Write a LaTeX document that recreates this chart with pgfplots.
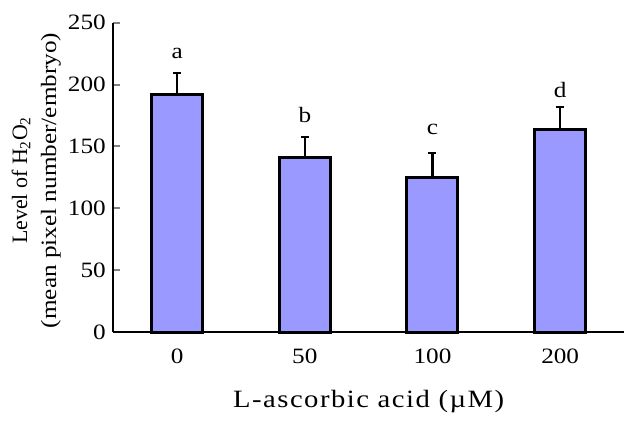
\documentclass[border=0pt]{standalone}
\usepackage{fontspec}
\setmainfont{Liberation Serif}[FakeStretch=1.15]
\usepackage{pgfplots}
\pgfplotsset{compat=1.18}
\definecolor{barfill}{RGB}{153,153,255}
\begin{document}
\fontsize{22}{29}\selectfont
\begin{tikzpicture}
\begin{axis}[
  scale only axis,
  width=510.7bp, height=309.3bp,
  xmin=-0.5, xmax=3.5,
  ymin=0, ymax=250,
  axis lines*=left,
  axis line style={line width=2bp},
  tick align=inside,
  xtick={0,1,2,3},
  xticklabels={0,50,100,200},
  x tick style={draw=none},
  minor xtick={0.5,1.5,2.5,3.5},
  minor x tick style={line width=2bp},
  minor tick length=6bp,
  ytick={0,50,100,150,200,250},
  y tick style={line width=2bp},
  major tick length=7bp,
  /pgf/number format/assume math mode=true,
  tick label style={font=\fontsize{22}{26}\selectfont},
  xticklabel style={yshift=-9bp},
  xlabel={\fontsize{25}{28}\selectfont\addfontfeatures{LetterSpace=6}L-ascorbic acid (µM)},
  xlabel style={at={(axis description cs:0.5,-0.226)}, anchor=center},
  ylabel={\addfontfeatures{FakeStretch=1.0}Level of H\textsubscript{2}O\textsubscript{2}\\(mean pixel number/embryo)},
  ylabel style={align=center, font=\fontsize{22}{29}\selectfont, at={(axis description cs:-0.088,0.49)}, anchor=south},
  clip=false,
]
\addplot[ybar, bar width=51bp, fill=barfill, draw=black, line width=3bp,
  error bars/.cd, y dir=plus, y explicit,
  error bar style={line width=2.2bp},
  error mark options={line width=2.2bp, mark size=4bp, rotate=90}]
  coordinates {(0,192) +- (0,17.4) (1,141.4) +- (0,16.4) (2,125) +- (0,19.4) (3,163.7) +- (0,18)};
\node at (axis cs:0,225) {a};
\node at (axis cs:1,175) {b};
\node at (axis cs:2,164) {c};
\node at (axis cs:3,196) {d};
\end{axis}
\path (current axis.south west) ++(-113.3bp,-75bp) rectangle ++(644bp,407bp);
\end{tikzpicture}
\end{document}
